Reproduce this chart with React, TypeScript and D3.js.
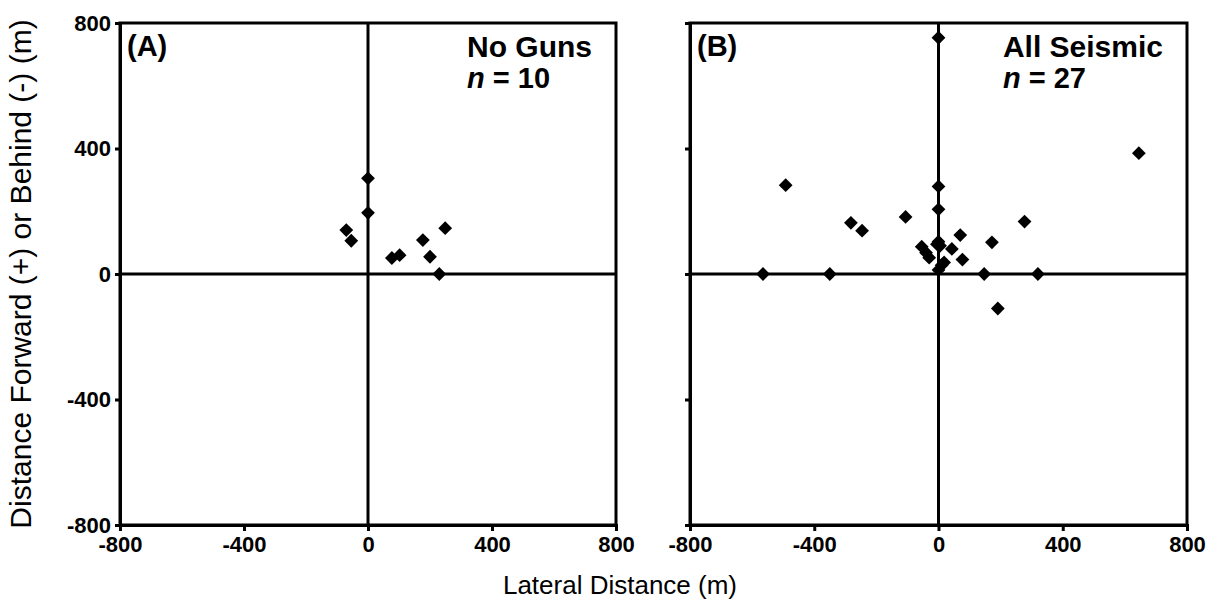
import React, { useEffect, useRef } from 'react';
import * as d3 from 'd3';

// lateral (x) and forward/behind (y) distances in metres
const noGunsX = [0, 0, -70, -54, 77, 102, 177, 249, 200, 230];
const noGunsY = [305, 195, 140, 106, 51, 60, 108, 146, 55, 0];

const seismicX = [0, -492, 0, 0, -106, -282, -246, -565, -350, 0, 5, -54, -40, -30, 70, 43, 77, 18, 0, 645, 277, 172, 147, 320, 191, -5, 10];
const seismicY = [753, 283, 279, 206, 182, 163, 138, 0, 0, 103, 90, 87, 68, 52, 124, 80, 46, 37, 13, 385, 167, 101, 0, 0, -110, 95, 28];

const tickValues = [-800, -400, 0, 400, 800];

const panels = [
  { tag: '(A)', title: 'No Guns', n: '10', xs: noGunsX, ys: noGunsY, left: 120, right: 616, yLabels: true },
  { tag: '(B)', title: 'All Seismic', n: '27', xs: seismicX, ys: seismicY, left: 690, right: 1187, yLabels: false },
];

const App: React.FC = () => {
  const ref = useRef<SVGSVGElement | null>(null);

  useEffect(() => {
    const svg = d3.select(ref.current);
    svg.selectAll('*').remove();
    const width = 1215;
    const height = 604;
    const top = 23;
    const bottom = 525;
    const font = '"Liberation Sans", Arial, sans-serif';
    const lw = 3;

    svg.attr('width', width).attr('height', height).attr('viewBox', `0 0 ${width} ${height}`);
    svg.append('rect').attr('width', width).attr('height', height).attr('fill', '#fff');

    panels.forEach(p => {
      const x = d3.scaleLinear().domain([-800, 800]).range([p.left, p.right]);
      const y = d3.scaleLinear().domain([-800, 800]).range([bottom, top]);
      const g = svg.append('g');

      // frame
      g.append('rect')
        .attr('x', p.left)
        .attr('y', top)
        .attr('width', p.right - p.left)
        .attr('height', bottom - top)
        .attr('fill', 'none')
        .attr('stroke', '#000')
        .attr('stroke-width', lw);

      // zero lines
      g.append('line')
        .attr('x1', x(0)).attr('x2', x(0))
        .attr('y1', top).attr('y2', bottom)
        .attr('stroke', '#000').attr('stroke-width', lw);
      g.append('line')
        .attr('x1', p.left).attr('x2', p.right)
        .attr('y1', y(0)).attr('y2', y(0))
        .attr('stroke', '#000').attr('stroke-width', lw);

      const fmt = (d: d3.NumberValue) => String(d);
      const xAxis = g.append('g')
        .attr('transform', `translate(0,${bottom})`)
        .call(d3.axisBottom(x).tickValues(tickValues).tickSize(6).tickPadding(5).tickFormat(fmt));
      const yAxis = g.append('g')
        .attr('transform', `translate(${p.left},0)`)
        .call(d3.axisLeft(y).tickValues(tickValues).tickSize(5).tickPadding(4).tickFormat(fmt));

      [xAxis, yAxis].forEach(a => {
        a.select('.domain').attr('stroke', '#000').attr('stroke-width', lw);
        a.selectAll('.tick line').attr('stroke', '#000').attr('stroke-width', lw);
        a.selectAll('.tick text')
          .attr('fill', '#000')
          .attr('font-family', font)
          .attr('font-weight', 'bold')
          .attr('font-size', 22);
      });
      if (!p.yLabels) yAxis.selectAll('.tick text').remove();

      // points
      const pts = p.xs.map((v, i) => [v, p.ys[i]]);
      g.append('g')
        .selectAll('path')
        .data(pts)
        .join('path')
        .attr('d', d3.symbol(d3.symbolSquare, 95)())
        .attr('transform', d => `translate(${x(d[0])},${y(d[1])}) rotate(45)`)
        .attr('fill', '#000');

      g.append('text')
        .attr('x', p.left + 7)
        .attr('y', 56)
        .attr('font-family', font)
        .attr('font-weight', 'bold')
        .attr('font-size', 29)
        .text(p.tag);

      const title = g.append('text')
        .attr('x', p.right - 24)
        .attr('y', 57)
        .attr('text-anchor', 'end')
        .attr('font-family', font)
        .attr('font-weight', 'bold')
        .attr('font-size', 30)
        .text(p.title);
      const tw = (title.node() as SVGTextElement).getComputedTextLength();

      const nText = g.append('text')
        .attr('x', p.right - 24 - tw)
        .attr('y', 88)
        .attr('font-family', font)
        .attr('font-weight', 'bold')
        .attr('font-size', 29);
      nText.append('tspan').attr('font-style', 'italic').text('n');
      nText.append('tspan').text(` = ${p.n}`);
    });

    svg.append('text')
      .attr('x', 620)
      .attr('y', 594)
      .attr('text-anchor', 'middle')
      .attr('font-family', font)
      .attr('font-size', 26)
      .text('Lateral Distance (m)');

    svg.append('text')
      .attr('transform', `translate(31,${(top + bottom) / 2}) rotate(-90)`)
      .attr('text-anchor', 'middle')
      .attr('font-family', font)
      .attr('font-size', 30)
      .text('Distance Forward (+) or Behind (-) (m)');
  }, []);

  return <svg ref={ref} style={{ position: 'absolute', left: 0, top: 0, display: 'block' }}></svg>;
};

export default App;
